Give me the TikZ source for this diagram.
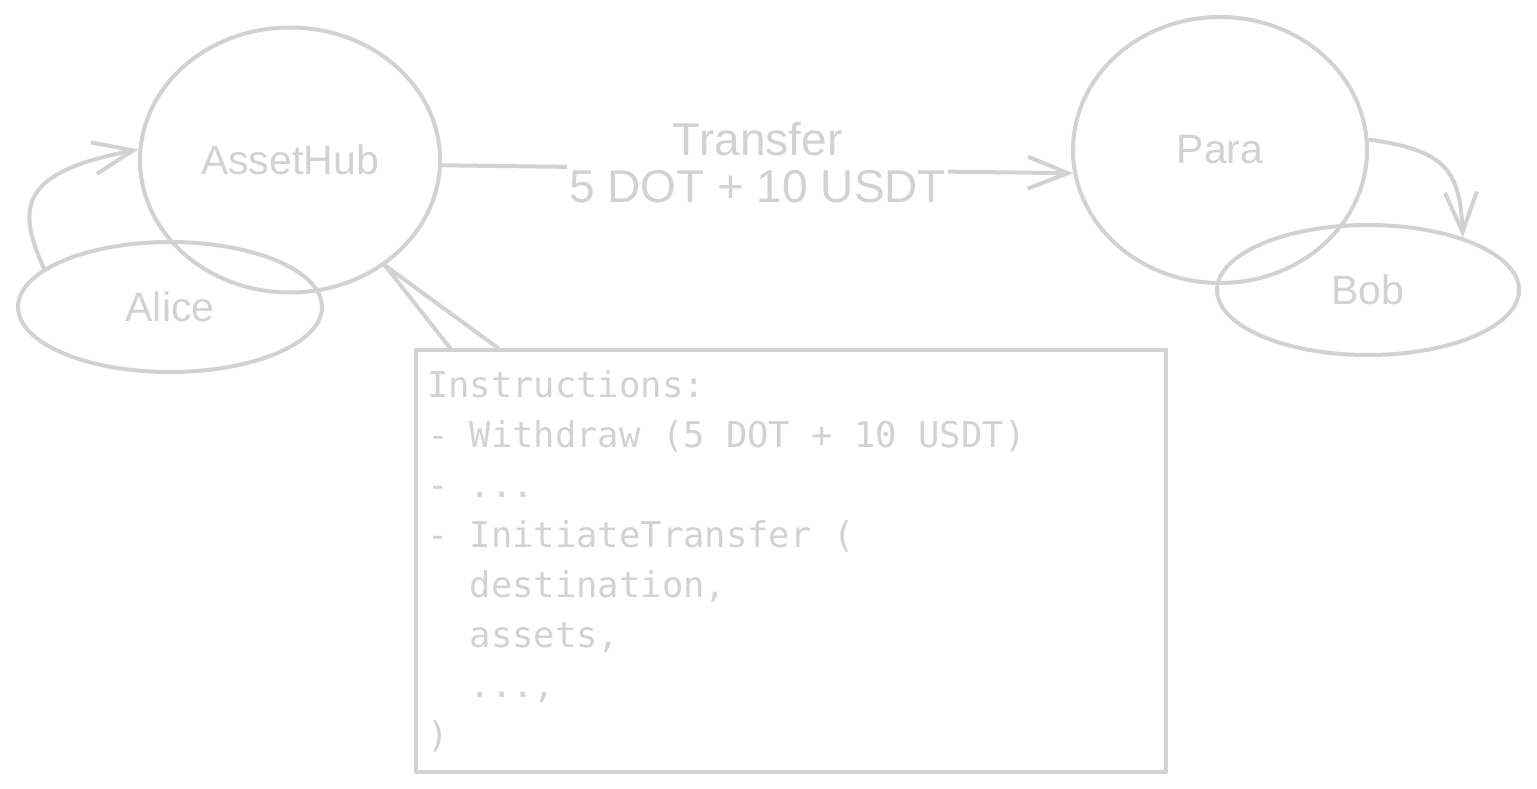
\documentclass[tikz,border=0pt]{standalone}
\usepackage{fontspec}
\setmainfont{Liberation Sans}
\newfontfamily\codefont{DejaVu Sans Mono}
\usetikzlibrary{arrows.meta, positioning, shapes.geometric, calc}
\definecolor{sketchgray}{RGB}{210,210,210}
% fixed-width spaces for the code lines
\newcommand{\codesize}{\codefont\fontsize{35.5}{50}\selectfont\spaceskip=0.602em\relax}

\begin{document}
\begin{tikzpicture}[x=1pt, y=-1pt,
    sketch/.style={draw=sketchgray, line width=4pt, line cap=round, line join=round},
    bubble/.style={sketch, ellipse, inner sep=0pt, text=sketchgray, font=\fontsize{41}{46}\selectfont},
    codebox/.style={sketch, rectangle, inner xsep=11pt, inner ysep=0pt, text width=728pt, minimum width=750pt, minimum height=422pt, align=flush left, text=sketchgray, font=\codesize},
    arrow/.style={sketch, -{Straight Barb[length=40pt, width=32pt]}}
]
    \useasboundingbox (0,0) rectangle (1537,789);

    \node[bubble, minimum width=300pt, minimum height=265pt] (hub) at (290,160) {AssetHub};
    \node[bubble, minimum width=304pt, minimum height=130pt] (alice) at (170,307) {Alice};
    \node[bubble, minimum width=294pt, minimum height=266pt] (para) at (1220,150) {Para};
    \node[bubble, minimum width=302pt, minimum height=130pt] (bob) at (1368,290) {Bob};

    \node[codebox, anchor=north west] (box) at (414,348) {\spaceskip=0.602em\relax Instructions:\\
- Withdraw (5 DOT + 10 USDT)\\
- ...\\
- InitiateTransfer (\\
\phantom{--}destination,\\
\phantom{--}assets,\\
\phantom{--}...,\\
)};

    % transfer between the chains
    \draw[arrow] (hub.-2) -- node[fill=white, text=sketchgray, align=center, inner sep=2pt, yshift=7pt, font=\fontsize{46}{47}\selectfont] (transfer) {Transfer\\5 DOT + 10 USDT} (para.189);

    % Alice sends into AssetHub, Para pays out to Bob
    \draw[arrow] (alice.163) .. controls (15,205) and (22,172) .. (hub.176);
    \draw[arrow] (para.4) .. controls (1445,150) and (1460,170) .. (bob.29);

    % instructions attached to AssetHub
    \draw[sketch] ($(box.north west)+(36,0)$) -- (hub.-48) -- ($(box.north west)+(84,0)$);
\end{tikzpicture}
\end{document}
